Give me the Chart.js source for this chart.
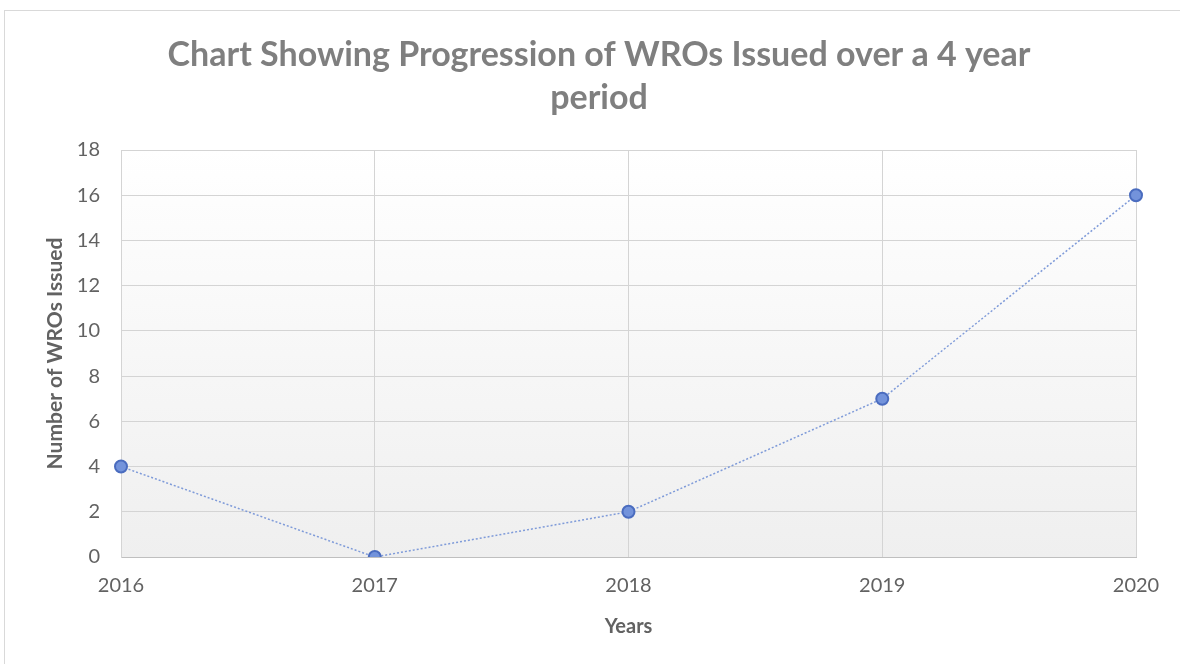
<!DOCTYPE html>
<html>
<head>
<meta charset="utf-8">
<script src="https://cdn.jsdelivr.net/npm/chart.js@4/dist/chart.umd.min.js"></script>
<style>
  body { margin: 0; background: #fff; }
  #marco { position: absolute; left: 0; top: 0; width: 1180px; height: 664px; }
</style>
</head>
<body>
<div id="marco"><canvas id="myChart" width="1180" height="664"></canvas></div>
<script>
//Datos

const anios = ["2016", "2017", "2018", "2019", "2020"]
const wrosEmitidos = [4, 0, 2, 7, 16]
const titulo = ["Chart Showing Progression of WROs Issued over a 4 year", "period"]
const tituloX = "Years"
const tituloY = "Number of WROs Issued"

const gris = "#626262"
const fuente = "Lato, 'Open Sans', sans-serif"

//Plugins

// marco exterior, fondo degradado del area de trazado y titulo
const fondo = {
  id: "fondo",
  beforeDraw(chart) {
    const ctx = chart.ctx
    const a = chart.chartArea
    ctx.save()
    ctx.strokeStyle = "#d9d9d9"
    ctx.lineWidth = 1
    ctx.strokeRect(4.5, 10.5, 1200, 700)
    const grad = ctx.createLinearGradient(0, a.top, 0, a.bottom)
    grad.addColorStop(0, "#ffffff")
    grad.addColorStop(1, "#efefef")
    ctx.fillStyle = grad
    ctx.fillRect(a.left, a.top, a.right - a.left, a.bottom - a.top)

    // titulo centrado sobre el grafico completo
    ctx.fillStyle = "#7f7f7f"
    ctx.font = "bold 34px " + fuente
    ctx.textAlign = "center"
    ctx.textBaseline = "middle"
    ctx.fillText(titulo[0], 599, 55)
    ctx.fillText(titulo[1], 599, 98)
    ctx.restore()
  }
}

//Grafico

const ctx = document.getElementById("myChart").getContext("2d")

new Chart(ctx, {
  type: "line",
  data: {
    labels: anios,
    datasets: [{
      label: tituloY,
      data: wrosEmitidos,
      borderColor: "#7f9bd9",
      borderWidth: 1.5,
      borderDash: [2, 2],
      pointRadius: 6,
      pointHoverRadius: 6,
      pointBackgroundColor: "#7393db",
      pointBorderColor: "#4a6cbf",
      pointBorderWidth: 2,
      tension: 0,
      fill: false
    }]
  },
  options: {
    responsive: false,
    animation: false,
    layout: {
      padding: { left: 43, right: 44, top: 150, bottom: 25 }
    },
    plugins: {
      legend: { display: false },
      tooltip: { enabled: false },
      title: { display: false }
    },
    scales: {
      x: {
        offset: false,
        grid: { color: "#d4d4d4", lineWidth: 1, drawTicks: false },
        border: { color: "#bfbfbf" },
        ticks: { color: gris, font: { family: fuente, size: 20 }, padding: 17 },
        title: {
          display: true,
          text: tituloX,
          color: gris,
          font: { family: fuente, size: 20, weight: "bold" },
          padding: { top: 0, bottom: 0 }
        }
      },
      y: {
        min: 0,
        max: 18,
        afterFit(scale) { scale.width = 78 },
        ticks: { stepSize: 2, color: gris, font: { family: fuente, size: 20 }, padding: 21 },
        grid: { color: "#d4d4d4", lineWidth: 1, drawTicks: false },
        border: { color: "#d4d4d4" },
        title: {
          display: true,
          text: tituloY,
          color: gris,
          font: { family: fuente, size: 21, weight: "bold" },
          padding: { top: 0, bottom: 10 }
        }
      }
    }
  },
  plugins: [fondo]
})
</script>
</body>
</html>
